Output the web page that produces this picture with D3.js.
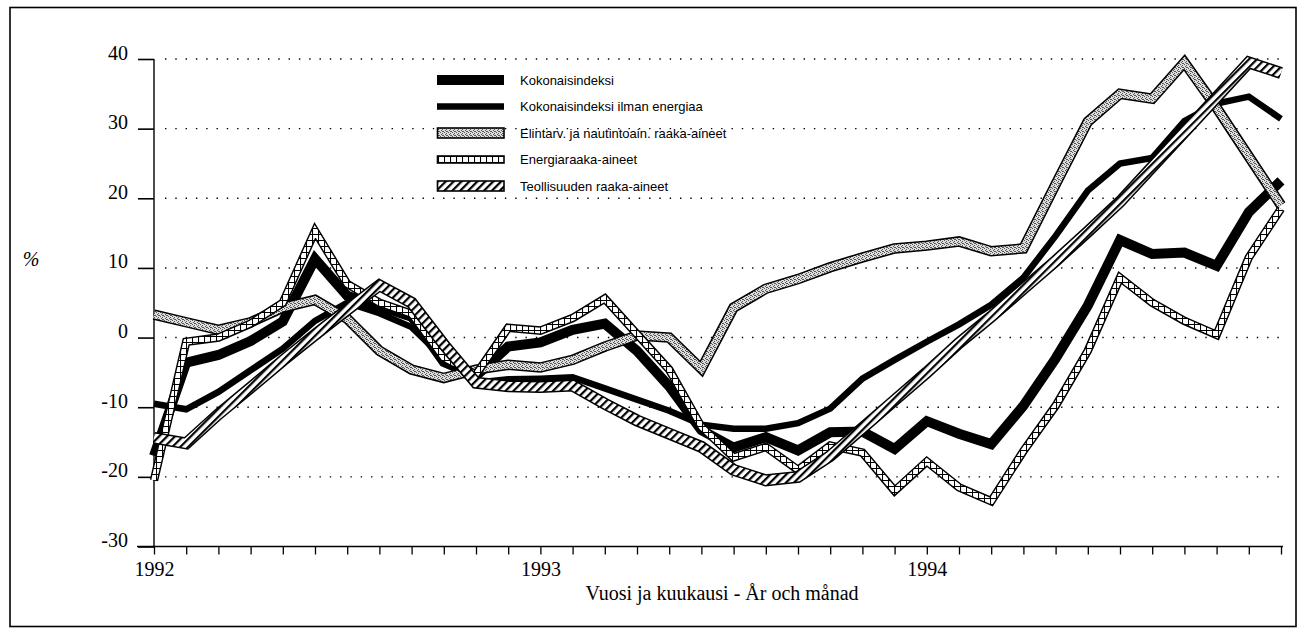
<!DOCTYPE html>
<html><head><meta charset="utf-8">
<script src="https://cdn.jsdelivr.net/npm/d3@7"></script>
<style>
html,body{margin:0;padding:0;background:#fff;}
svg{display:block;}
</style></head>
<body>
<svg id="chart" width="1301" height="633"></svg>
<script>
// ---------------- data ----------------
const months = [
 "1992-01","1992-02","1992-03","1992-04","1992-05","1992-06","1992-07","1992-08","1992-09","1992-10","1992-11","1992-12",
 "1993-01","1993-02","1993-03","1993-04","1993-05","1993-06","1993-07","1993-08","1993-09","1993-10","1993-11","1993-12",
 "1994-01","1994-02","1994-03","1994-04","1994-05","1994-06","1994-07","1994-08","1994-09","1994-10","1994-11","1994-12"];
const yearLabels = {"1992-01":"1992","1993-01":"1993","1994-01":"1994"};
const yTicks = [40,30,20,10,0,-10,-20,-30];
const gridValues = [40,30,20,10,0,-10,-20];

const kokonais = [-17,-3.6,-2.5,-0.5,2.3,11.3,6,4.5,3,-3.5,-5.5,-1.3,
  -0.7,1.1,2,-1.9,-7,-13.3,-15.8,-14.3,-16.2,-13.6,-13.5,-16,
  -12,-13.8,-15.3,-9.8,-3,4.6,14,12,12.2,10.3,18,22.5];
const ilmanEnergiaa = [-9.5,-10.3,-7.8,-4.7,-1.6,2.4,5,3.5,1.5,-3,-6.5,-6,
  -5.9,-5.7,-7.3,-8.9,-10.5,-12.5,-13.1,-13.1,-12.3,-10.2,-5.9,-3.2,
  -0.6,1.9,4.7,8.6,14.6,21.1,25,25.8,31.1,33.6,34.6,31.4];
const elintarvike = [3.3,2.2,1.1,2.2,4.3,5.4,2.7,-1.9,-4.6,-5.8,-4.6,-3.9,
  -4.3,-3.2,-1.3,0.3,0,-4.5,4.3,7,8.4,10.1,11.5,12.8,
  13.2,13.8,12.4,12.8,22,31,35,34.3,39.5,33,26,19];
const energia = [-20.5,-0.6,0,2,5,15.3,7.7,5,3.4,-2.9,-5.3,1.4,
  1,2.8,5.6,0.5,-4.6,-12.8,-17.2,-15.7,-19,-15.5,-16.5,-22,
  -17.8,-21.5,-23.5,-16.3,-9.8,-1.9,8.6,5,2.4,0.4,11.5,18.5];
const teollisuus = [-14.4,-15.2,-11,-7.2,-3.3,0.4,4,7.5,5,-1,-6.5,-7,
  -7.1,-6.9,-9.5,-11.9,-13.8,-15.7,-19,-20.5,-20,-17,-13,-9,
  -5,-0.8,3,7,11,15.2,19.5,24.5,29.5,34.5,39.5,38];

const seriesNames = ["Kokonaisindeksi","Kokonaisindeksi ilman energiaa",
  "Elintarv. ja nautintoain. raaka-aineet","Energiaraaka-aineet","Teollisuuden raaka-aineet"];
const seriesValues = [kokonais, ilmanEnergiaa, elintarvike, energia, teollisuus];

// ---------------- styles ----------------
const styles = [
  {kind:"solid", w:10},
  {kind:"solid", w:6.5},
  {kind:"band", w:10.5, inner:7.5, pat:"stip"},
  {kind:"band", w:8.5, inner:5.6, pat:"cross"},
  {kind:"band", w:12, inner:9, pat:"hatch"}
];

const svg = d3.select("#chart");
const defs = svg.append("defs");

// stipple pattern (dense grey dots)
const st = defs.append("pattern").attr("id","stip").attr("patternUnits","userSpaceOnUse")
  .attr("width",4).attr("height",4);
st.append("rect").attr("width",4).attr("height",4).attr("fill","#ddd");
[[0,0],[2,1],[1,2],[3,3],[2,3]].forEach(p=>{
  st.append("rect").attr("x",p[0]).attr("y",p[1]).attr("width",1).attr("height",1).attr("fill","#555");
});
// crosshatch grid pattern
const cr = defs.append("pattern").attr("id","cross").attr("patternUnits","userSpaceOnUse")
  .attr("width",6).attr("height",6);
cr.append("rect").attr("width",6).attr("height",6).attr("fill","#fff");
cr.append("path").attr("d","M0,0.5H6M0.5,0V6").attr("stroke","#000").attr("stroke-width",1.1);
// diagonal hatch pattern
const ha = defs.append("pattern").attr("id","hatch").attr("patternUnits","userSpaceOnUse")
  .attr("width",5.6).attr("height",5.6).attr("patternTransform","rotate(45)");
ha.append("rect").attr("width",5.6).attr("height",5.6).attr("fill","#fff");
ha.append("rect").attr("width",2.2).attr("height",5.6).attr("fill","#000");

// ---------------- scales ----------------
const x = d3.scalePoint().domain(months).range([154,1281]);
const y = d3.scaleLinear().domain([-30,40]).range([546.5,59]);

// frame
svg.append("rect").attr("x",10).attr("y",7.5).attr("width",1286).attr("height",619)
  .attr("fill","none").attr("stroke","#000").attr("stroke-width",1.6);

// gridlines
svg.append("g").selectAll("line").data(gridValues).join("line")
  .attr("x1",165).attr("x2",1284).attr("y1",d=>y(d)).attr("y2",d=>y(d))
  .attr("stroke","#000").attr("stroke-width",1.4).attr("stroke-dasharray","1.4,8.9");

// y axis
const yAxis = svg.append("g").attr("transform","translate(154,0)")
  .call(d3.axisLeft(y).tickValues(yTicks).tickSize(16).tickPadding(10).tickSizeOuter(0).tickFormat(d=>String(d)));
yAxis.select(".domain").remove();
yAxis.selectAll(".tick line").attr("stroke","#000").attr("stroke-width",1.6);
yAxis.selectAll(".tick text").attr("dy","0em").attr("font-family","'Liberation Serif','Times New Roman',serif")
  .attr("font-size",20).attr("fill","#000");
svg.append("line").attr("x1",154).attr("x2",154).attr("y1",y(40)).attr("y2",y(-30))
  .attr("stroke","#000").attr("stroke-width",1.4);

// x axis
const xAxis = svg.append("g").attr("transform",`translate(0,${y(-30)})`)
  .call(d3.axisBottom(x).tickSize(8).tickPadding(7).tickSizeOuter(0).tickFormat(d=>yearLabels[d]||""));
xAxis.select(".domain").remove();
xAxis.selectAll(".tick line").attr("stroke","#000").attr("stroke-width",1.3);
xAxis.selectAll(".tick text").attr("font-family","'Liberation Serif','Times New Roman',serif")
  .attr("font-size",20).attr("fill","#000");
svg.append("line").attr("x1",137).attr("x2",1283).attr("y1",y(-30)).attr("y2",y(-30))
  .attr("stroke","#000").attr("stroke-width",1.6);

// axis titles
svg.append("text").attr("x",31).attr("y",266).attr("text-anchor","middle")
  .attr("font-family","'Liberation Serif','Times New Roman',serif").attr("font-style","italic")
  .attr("font-size",20).text("%");
svg.append("text").attr("x",722).attr("y",600).attr("text-anchor","middle")
  .attr("font-family","'Liberation Serif','Times New Roman',serif")
  .attr("font-size",20).text("Vuosi ja kuukausi - År och månad");

// ---------------- lines ----------------
const line = d3.line().x((d,i)=>x(months[i])).y(d=>y(d));
const plot = svg.append("g");
seriesValues.forEach((vals,k)=>{
  const s = styles[k];
  const g = plot.append("g");
  g.append("path").attr("d",line(vals)).attr("fill","none").attr("stroke","#000")
    .attr("stroke-width",s.w).attr("stroke-linejoin","miter").attr("stroke-miterlimit",3);
  if(s.kind==="band"){
    g.append("path").attr("d",line(vals)).attr("fill","none").attr("stroke",`url(#${s.pat})`)
      .attr("stroke-width",s.inner).attr("stroke-linejoin","miter").attr("stroke-miterlimit",3);
  }
});

// ---------------- legend ----------------
const legY = [80,106.5,133,159.5,186];
const leg = svg.append("g");
seriesNames.forEach((name,k)=>{
  const s = styles[k];
  const cy = legY[k];
  if(s.kind==="solid"){
    leg.append("rect").attr("x",437).attr("y",cy-s.w/2).attr("width",67).attr("height",s.w).attr("fill","#000");
  } else {
    const h = k===3 ? 7 : 10;
    leg.append("rect").attr("x",437.5).attr("y",cy-h/2).attr("width",66.5).attr("height",h)
      .attr("fill",`url(#${s.pat})`).attr("stroke","#000").attr("stroke-width",1.6);
  }
  leg.append("text").attr("x",520).attr("y",cy+4.5)
    .attr("font-family","'Liberation Sans',Arial,sans-serif").attr("font-size",13)
    .attr("fill","#000").text(name);
});
</script>
</body></html>
